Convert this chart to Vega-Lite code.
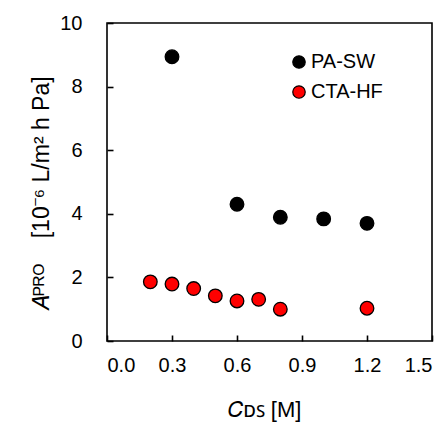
{
  "$schema": "https://vega.github.io/schema/vega-lite/v6.json",
  "width": 325,
  "height": 318,
  "autosize": "none",
  "padding": {"left": 107, "top": 23, "right": 13, "bottom": 82},
  "background": "white",
  "config": {
    "view": {"stroke": "black", "strokeWidth": 1.6},
    "font": "Liberation Sans"
  },
  "data": {
    "values": [
      {"c": 0.3, "a": 8.94, "membrane": "PA-SW"},
      {"c": 0.6, "a": 4.30, "membrane": "PA-SW"},
      {"c": 0.8, "a": 3.89, "membrane": "PA-SW"},
      {"c": 1.0, "a": 3.84, "membrane": "PA-SW"},
      {"c": 1.2, "a": 3.70, "membrane": "PA-SW"},
      {"c": 0.2, "a": 1.86, "membrane": "CTA-HF"},
      {"c": 0.3, "a": 1.79, "membrane": "CTA-HF"},
      {"c": 0.4, "a": 1.65, "membrane": "CTA-HF"},
      {"c": 0.5, "a": 1.42, "membrane": "CTA-HF"},
      {"c": 0.6, "a": 1.26, "membrane": "CTA-HF"},
      {"c": 0.7, "a": 1.31, "membrane": "CTA-HF"},
      {"c": 0.8, "a": 1.00, "membrane": "CTA-HF"},
      {"c": 1.2, "a": 1.03, "membrane": "CTA-HF"}
    ]
  },
  "mark": {"type": "point", "shape": "circle", "filled": true, "size": 185, "stroke": "black", "strokeWidth": 1.3, "opacity": 1},
  "encoding": {
    "x": {
      "field": "c", "type": "quantitative",
      "scale": {"domain": [0, 1.5], "nice": false, "zero": false},
      "axis": {
        "values": [0, 0.3, 0.6, 0.9, 1.2, 1.5], "format": ".1f",
        "title": "𝐶ᴅꜱ [M]",
        "grid": false, "domain": false, "offset": -6, "zindex": 1, "ticks": true,
        "tickSize": 6, "tickColor": "#000000", "tickWidth": 1.6, "tickOpacity": 1,
        "labelPadding": 14, "labelFontSize": 20, "labelColor": "black", "labelFont": "Liberation Sans",
        "titleFontSize": 22, "titleFontWeight": "normal", "titleColor": "black", "titlePadding": 24, "titleFont": "Liberation Sans", "titleX": 157
      }
    },
    "y": {
      "field": "a", "type": "quantitative",
      "scale": {"domain": [0, 10], "nice": false},
      "axis": {
        "values": [0, 2, 4, 6, 8, 10],
        "title": "𝐴ᴾᴿᴼ\u00a0\u00a0\u00a0\u00a0[10⁻⁶ L/m² h Pa]",
        "grid": false, "domain": false, "offset": -6, "zindex": 1, "ticks": true,
        "tickSize": 6, "tickColor": "#000000", "tickWidth": 1.6, "tickOpacity": 1,
        "labelPadding": 25, "labelFontSize": 20, "labelColor": "black", "labelFont": "Liberation Sans",
        "titleFontSize": 23, "titleFontWeight": "normal", "titleColor": "black", "titlePadding": 6, "titleFont": "Liberation Sans", "titleY": 170
      }
    },
    "color": {
      "field": "membrane", "type": "nominal",
      "scale": {"domain": ["PA-SW", "CTA-HF"], "range": ["#000000", "#ff0000"]},
      "legend": {
        "title": null, "orient": "none", "legendX": 182, "legendY": 29,
        "padding": 0, "rowPadding": 10, "symbolType": "circle", "symbolSize": 155,
        "symbolStrokeColor": "black", "symbolStrokeWidth": 1.2,
        "labelFontSize": 20, "labelColor": "black", "labelFont": "Liberation Sans", "labelOffset": 2
      }
    }
  }
}
